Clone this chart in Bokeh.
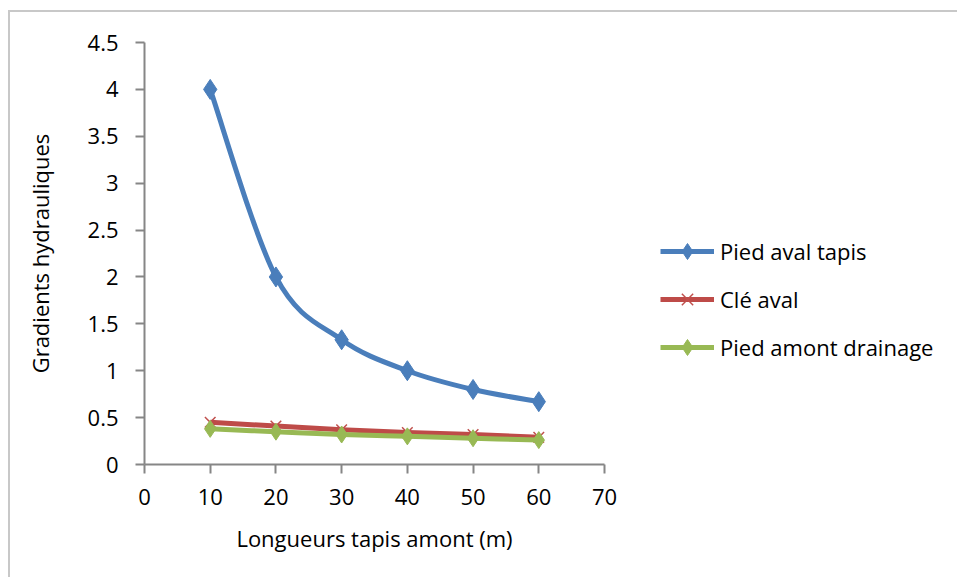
from bokeh.plotting import figure
from bokeh.models import Range1d, FixedTicker, Legend, LegendItem, ColumnDataSource
from bokeh.embed import file_html
from bokeh.resources import INLINE

# ---- data ----
x_lengths = [10, 20, 30, 40, 50, 60]
pied_aval_tapis = [4.0, 2.0, 1.33, 1.0, 0.8, 0.67]
cle_aval = [0.45, 0.41, 0.37, 0.34, 0.32, 0.29]
pied_amont_drainage = [0.38, 0.35, 0.32, 0.30, 0.28, 0.26]
series_names = ["Pied aval tapis", "Clé aval", "Pied amont drainage"]
x_ticks = [0, 10, 20, 30, 40, 50, 60, 70]
y_ticks = [0, 0.5, 1, 1.5, 2, 2.5, 3, 3.5, 4, 4.5]
y_tick_labels = ["0", "0.5", "1", "1.5", "2", "2.5", "3", "3.5", "4", "4.5"]
x_label = "Longueurs tapis amont (m)"
y_label = "Gradients hydrauliques"

FONT = "Open Sans"
FS = "22px"
FL, FT, FW, FH = 134, 30, 460, 422  # frame left/top/width/height in figure px

p = figure(frame_width=FW, frame_height=FH, output_backend="svg", toolbar_location=None,
           x_range=Range1d(0, 70), y_range=Range1d(0, 4.5),
           min_border_left=FL, min_border_top=FT,
           min_border_right=0, min_border_bottom=113)
p.styles = {"margin-left": "8px", "margin-top": "10px",
            "border-top": "2px solid #c8c8c8", "border-left": "2px solid #c8c8c8"}
p.outline_line_color = None
p.xgrid.visible = False
p.ygrid.visible = False
p.background_fill_color = "white"
p.border_fill_color = "white"

for ax in (p.xaxis[0], p.yaxis[0]):
    ax.axis_line_color = "#868686"
    ax.axis_line_width = 2
    ax.major_tick_line_color = "#868686"
    ax.major_tick_line_width = 2
    ax.major_tick_in = 0
    ax.major_tick_out = 9
    ax.minor_tick_line_color = None
    ax.major_label_text_font = FONT
    ax.major_label_text_font_size = FS
    ax.major_label_text_color = "black"
    ax.axis_label_text_font = FONT
    ax.axis_label_text_font_size = FS
    ax.axis_label_text_font_style = "normal"
    ax.axis_label_text_color = "black"

p.xaxis[0].ticker = FixedTicker(ticks=x_ticks)
p.yaxis[0].ticker = FixedTicker(ticks=y_ticks)
p.yaxis[0].major_label_overrides = {t: l for t, l in zip(y_ticks, y_tick_labels)}
p.xaxis[0].axis_label = x_label
p.yaxis[0].axis_label = y_label
p.xaxis[0].major_label_standoff = 15
p.xaxis[0].axis_label_standoff = 15
p.yaxis[0].major_label_standoff = 17
p.yaxis[0].axis_label_standoff = 30

sx = FW / 70.0
sy = FH / 4.5


def smooth(xs, ys):
    # Catmull-Rom -> cubic bezier (screen-space tangents), like a smoothed line
    n = len(xs)
    px = [v * sx for v in xs]
    py = [v * sy for v in ys]
    d = dict(x0=[], y0=[], x1=[], y1=[], cx0=[], cy0=[], cx1=[], cy1=[])
    for i in range(n - 1):
        i0 = max(i - 1, 0)
        i3 = min(i + 2, n - 1)
        c0x = px[i] + (px[i + 1] - px[i0]) / 6.0
        c0y = py[i] + (py[i + 1] - py[i0]) / 6.0
        c1x = px[i + 1] - (px[i3] - px[i]) / 6.0
        c1y = py[i + 1] - (py[i3] - py[i]) / 6.0
        d["x0"].append(xs[i]); d["y0"].append(ys[i])
        d["x1"].append(xs[i + 1]); d["y1"].append(ys[i + 1])
        d["cx0"].append(c0x / sx); d["cy0"].append(c0y / sy)
        d["cx1"].append(c1x / sx); d["cy1"].append(c1y / sy)
    return ColumnDataSource(d)


colors = ["#4A7EBB", "#BE4B48", "#98B954"]
series = [pied_aval_tapis, cle_aval, pied_amont_drainage]
markers = ["diamond", "x", "diamond"]
sizes = [20, 15, 17]

items = []
for name, ys, col, mk, sz in zip(series_names, series, colors, markers, sizes):
    bz = p.bezier(x0="x0", y0="y0", x1="x1", y1="y1", cx0="cx0", cy0="cy0",
                  cx1="cx1", cy1="cy1", source=smooth(x_lengths, ys),
                  line_color=col, line_width=5)
    if mk == "x":
        sc = p.scatter(x_lengths, ys, marker="x", size=sz, line_color="#C0504D",
                       line_width=1.5)
    else:
        sc = p.scatter(x_lengths, ys, marker="diamond", size=sz, fill_color=col,
                       line_color=col)
    items.append(LegendItem(label=name, renderers=[bz, sc]))

legend = Legend(items=items, location=(56, 97))
legend.border_line_color = None
legend.background_fill_alpha = 0
legend.padding = 0
legend.margin = 0
legend.spacing = 8
legend.glyph_width = 54
legend.glyph_height = 40
legend.label_height = 24
legend.label_standoff = 6
legend.label_text_font = FONT
legend.label_text_font_size = FS
legend.label_text_color = "black"
p.add_layout(legend, "right")

open("out.html", "w").write(file_html(p, INLINE))
